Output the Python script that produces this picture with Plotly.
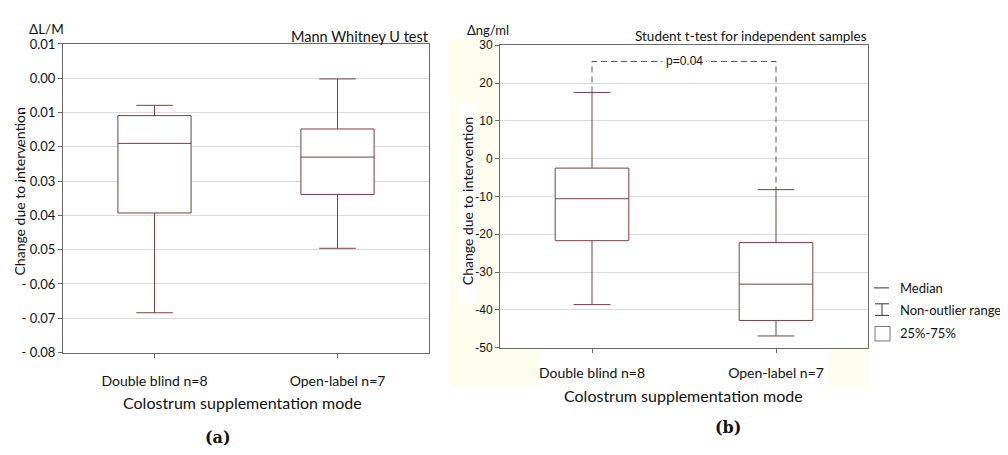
import plotly.graph_objects as go

# The page body has an 8px margin, so the figure is sized and positioned to compensate.
OFF = 8
W, H = 1000, 447

def px(x):
    return (x - OFF) / W

def py(y):
    return 1 - (y - OFF) / H

# ---------------- data ----------------
categories = ["Double blind n=8", "Open-label n=7"]

# Panel (a): change in L/M ratio
a_upper = [-0.0079, -0.0002]
a_q3 = [-0.0109, -0.0148]
a_median = [-0.0190, -0.0230]
a_q1 = [-0.0393, -0.0339]
a_lower = [-0.0684, -0.0496]

a_tickvals = [0.01, 0.00, -0.01, -0.02, -0.03, -0.04, -0.05, -0.06, -0.07, -0.08]
a_ticktext = ["0.01", "0.00", "- 0.01", "- 0.02", "- 0.03", "- 0.04", "- 0.05", "- 0.06", "- 0.07", "- 0.08"]

# Panel (b): change in ng/ml
b_upper = [17.5, -8.2]
b_q3 = [-2.5, -22.2]
b_median = [-10.6, -33.2]
b_q1 = [-21.7, -42.8]
b_lower = [-38.6, -46.9]

b_tickvals = [30, 20, 10, 0, -10, -20, -30, -40, -50]
b_ticktext = ["30", "20", "10", "0", "-10", "-20", "-30", "-40", "-50"]

bracket_y = 25.7
p_label = "p=0.04"

legend_items = ["Median", "Non-outlier range", "25%-75%"]

# ---------------- style ----------------
BOX = "#7B3F3F"
FRAME = "#6A6A6A"
GRID = "#DADADA"
TXT = "#111111"
SANS = "Lato"
ARIAL = "Liberation Sans"
SERIF = "DejaVu Serif"

fig = go.Figure()

fig.add_trace(go.Box(
    x=categories, q1=a_q1, median=a_median, q3=a_q3,
    lowerfence=a_lower, upperfence=a_upper,
    xaxis="x", yaxis="y", width=0.4, whiskerwidth=0.5,
    fillcolor="white", line=dict(color=BOX, width=1),
    boxpoints=False, hoverinfo="skip", showlegend=False,
))
fig.add_trace(go.Box(
    x=categories, q1=b_q1, median=b_median, q3=b_q3,
    lowerfence=b_lower, upperfence=b_upper,
    xaxis="x2", yaxis="y2", width=0.4, whiskerwidth=0.5,
    fillcolor="white", line=dict(color=BOX, width=1),
    boxpoints=False, hoverinfo="skip", showlegend=False,
))

axis_common = dict(showline=True, linecolor=FRAME, linewidth=1, mirror=True,
                   ticks="outside", ticklen=4, tickcolor=FRAME, zeroline=False)

fig.update_layout(
    width=W, height=H,
    margin=dict(l=0, r=0, t=0, b=0),
    paper_bgcolor="white", plot_bgcolor="white",
    showlegend=False,
    xaxis=dict(domain=[px(63), px(429)], anchor="y", type="category",
               range=[-0.5, 1.5], showgrid=False,
               tickfont=dict(family=SANS, size=14, color=TXT),
               ticklabelstandoff=12, **axis_common),
    yaxis=dict(domain=[py(357), py(37)], anchor="x", range=[-0.08, 0.01],
               tickvals=a_tickvals, ticktext=a_ticktext,
               showgrid=True, gridcolor=GRID, gridwidth=1,
               tickfont=dict(family=SANS, size=13, color=TXT),
               **axis_common),
    xaxis2=dict(domain=[px(500), px(868)], anchor="y2", type="category",
                range=[-0.5, 1.5], showgrid=False,
                tickfont=dict(family=SANS, size=14, color=TXT),
                ticklabelstandoff=9, **axis_common),
    yaxis2=dict(domain=[py(352), py(38.3)], anchor="x2", range=[-50, 30],
                tickvals=b_tickvals, ticktext=b_ticktext,
                showgrid=True, gridcolor=GRID, gridwidth=1,
                tickfont=dict(family=ARIAL, size=12, color=TXT),
                **axis_common),
)

shapes = []
# cream background patches of panel (b)
cream = "#FFFDEE"
for (x0, y0, x1, y1) in [(450, 33, 500, 393), (500, 352, 540, 393), (828, 352, 869, 393)]:
    shapes.append(dict(type="rect", xref="paper", yref="paper", layer="below",
                       x0=px(x0), x1=px(x1), y0=py(y1), y1=py(y0),
                       fillcolor=cream, line=dict(width=0)))
# white patch behind the y title of panel (b)
shapes.append(dict(type="rect", xref="paper", yref="paper", layer="below",
                   x0=px(459), x1=px(476), y0=py(307), y1=py(97),
                   fillcolor="white", line=dict(width=0)))

# significance bracket in data coordinates of panel (b)
shapes.append(dict(type="path", xref="x2", yref="y2",
                   path=f"M 0 {b_upper[0]} L 0 {bracket_y} L 1 {bracket_y} L 1 {b_upper[1]}",
                   line=dict(color="#5A5A5A", width=1, dash="6px,4px")))

# custom legend
LC = "#333333"
shapes.append(dict(type="line", xref="paper", yref="paper",
                   x0=px(874), x1=px(889), y0=py(290), y1=py(290),
                   line=dict(color=LC, width=1)))
# whisker symbol
for yy in (306.5, 318.5):
    shapes.append(dict(type="line", xref="paper", yref="paper",
                       x0=px(875), x1=px(889), y0=py(yy), y1=py(yy),
                       line=dict(color=LC, width=1)))
shapes.append(dict(type="line", xref="paper", yref="paper",
                   x0=px(882), x1=px(882), y0=py(306.5), y1=py(318.5),
                   line=dict(color=LC, width=1)))
# box symbol
shapes.append(dict(type="rect", xref="paper", yref="paper",
                   x0=px(875), x1=px(890), y0=py(345), y1=py(330),
                   fillcolor="white", line=dict(color="#777777", width=1)))

annotations = []

def txt(text, x, y, size=13, family=SANS, xanchor="center", yanchor="middle",
        angle=0, color=TXT):
    annotations.append(dict(text=text, x=px(x), y=py(y), xref="paper", yref="paper",
                            xanchor=xanchor, yanchor=yanchor, showarrow=False,
                            textangle=angle, borderpad=0,
                            font=dict(family=family, size=size, color=color)))

# panel (a) texts
txt("ΔL/M", 28, 21, size=13.5, xanchor="left")
txt("Mann Whitney U test", 430, 29, size=14.5, xanchor="right")
txt("Change due to intervention", 19, 190, size=14, angle=-90)
txt("Colostrum supplementation mode", 242, 409, size=16)
txt("<b>(a)</b>", 218, 445, size=16, family=SERIF)

# panel (b) texts
txt("Δng/ml", 466, 23, size=13, xanchor="left")
txt("Student t-test for independent samples", 868, 29, size=13.5, xanchor="right")
txt("Change due to intervention", 467, 200, size=14, angle=-90)
txt("Colostrum supplementation mode", 683, 402, size=16)
txt("<b>(b)</b>", 728, 435, size=16, family=SERIF)

# p-value label on the bracket
annotations.append(dict(text=p_label, x=0.5, y=bracket_y, xref="x2", yref="y2",
                        showarrow=False, bgcolor="white", borderpad=3,
                        font=dict(family=ARIAL, size=12, color=TXT),
                        xanchor="center", yanchor="middle"))

# legend texts
txt(legend_items[0], 899, 290, size=13, xanchor="left")
txt(legend_items[1], 899, 313, size=13, xanchor="left")
txt(legend_items[2], 899, 337, size=13, xanchor="left")

fig.update_layout(shapes=shapes, annotations=annotations)

fig.write_html("out.html")
